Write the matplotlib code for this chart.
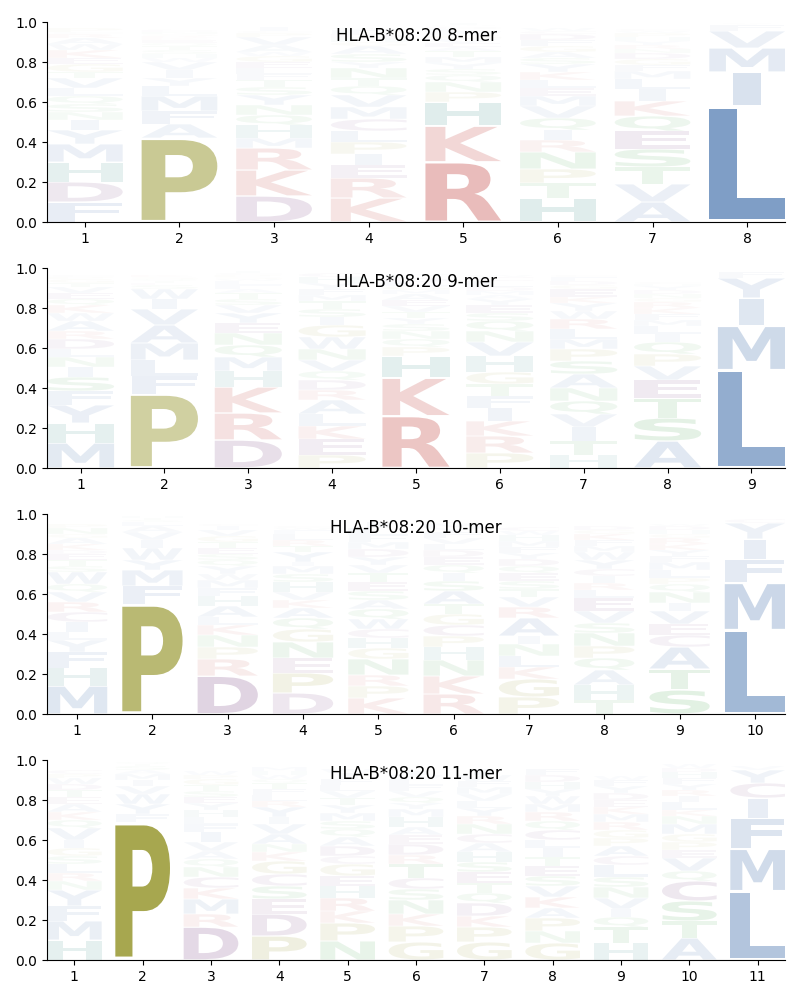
import matplotlib
matplotlib.use("Agg")
import matplotlib.pyplot as plt
from matplotlib.textpath import TextPath
from matplotlib.patches import PathPatch
from matplotlib.font_manager import FontProperties
from matplotlib.transforms import Affine2D

# --- data: letters per position (stack order, bottom -> top) and their probabilities ---
allele = "HLA-B*08:20"

mer8_letters = ["FDHMYINSQLVTGEKWARCP", "PAFMLYIVWHSTQEKRGNDC", "DKRMHQNYSTFLEGWAVPCI",
                "KREIPLCMVQTNYSAGHDFW", "RKHPNQSYMTAEVGFLDCWI", "HTPNRIQVMELKYSAGFDCW",
                "AVTSEQKILMFGDNRYHPWC", "LIMVFYA"]
mer8_probs = [
    [.10, .10, .10, .09, .07, .05, .04, .04, .04, .04, .05, .03, .04, .03, .04, .03, .03, .02, .01, .02],
    [.42, .07, .065, .075, .05, .04, .04, .04, .02, .02, .02, .02, .015, .015, .01, .01, .01, .01, .01, .005],
    [.13, .13, .11, .05, .065, .05, .05, .05, .04, .035, .03, .03, .03, .03, .02, .035, .04, .02, .01, .02],
    [.12, .10, .065, .055, .06, .055, .06, .06, .06, .045, .04, .05, .03, .04, .04, .02, .02, .02, .02, .01],
    [.30, .18, .12, .05, .05, .035, .03, .03, .03, .03, .02, .02, .02, .02, .015, .015, .01, .005, .005, .01],
    [.12, .075, .07, .085, .06, .05, .06, .06, .05, .04, .04, .04, .04, .03, .03, .03, .03, .03, .015, .015],
    [.10, .09, .085, .09, .09, .075, .075, .06, .05, .04, .03, .03, .03, .02, .02, .02, .02, .02, .01, .01],
    [.58, .17, .12, .085, .03, .005, .005],
]

mer9_letters = ["MHYFSINLDRAWKQEVTGPC", "PFLMAVIWSETQGK", "DRKHMQNEYVSTAFLWGPCI",
                "PEKLARDQVNWGISTMFYHC", "RKHPQNSYTVEAMGLDFW", "PRKIFTGHVNQSEYAMDLCW",
                "HTIVQNASPMLRWYKEGDFC", "ASTEVPQILMFKRGNDYHC", "LMIYF"]
mer9_probs = [
    [.125, .10, .09, .07, .07, .05, .05, .04, .05, .04, .05, .04, .04, .03, .03, .03, .02, .02, .01, .01],
    [.37, .09, .08, .085, .09, .08, .05, .05, .02, .01, .01, .01, .01, .01],
    [.14, .135, .13, .08, .07, .06, .06, .05, .05, .04, .03, .03, .02, .02, .02, .01, .01, .01, .01, .01],
    [.065, .08, .065, .06, .07, .05, .05, .045, .055, .055, .06, .06, .04, .04, .04, .03, .03, .03, .03, .02],
    [.26, .19, .11, .045, .04, .04, .035, .03, .03, .03, .03, .03, .02, .02, .02, .02, .01, .01],
    [.075, .085, .075, .065, .06, .06, .06, .08, .07, .055, .05, .04, .04, .03, .02, .02, .02, .03, .02, .01],
    [.065, .07, .07, .065, .065, .065, .07, .065, .06, .05, .05, .05, .04, .04, .03, .04, .02, .02, .02, .01],
    [.135, .115, .10, .09, .07, .06, .06, .04, .04, .03, .03, .03, .03, .02, .02, .02, .02, .01, .01],
    [.49, .22, .14, .10, .03],
]

mer10_letters = ["MHFYLICRVQWSTEDKAGNP", "PFMYWIVALSTH", "DRPNKLAHFMWYQSETGVIC",
                 "DPENGQAKVHSMIYTRLFWC", "KPRNGHCWQASETVYDMFLI", "RKNHPCGTASIQEDLVFYMW",
                 "PGKLNIARVTSEQDYFMHWC", "THAQPNSVELRICYWMFKGD", "STACEVINQPLMFYKRGHDW",
                 "LMFIYC"]
mer10_probs = [
    [.14, .09, .08, .06, .04, .05, .05, .05, .05, .04, .06, .03, .03, .03, .02, .03, .03, .02, .03, .02],
    [.55, .09, .08, .05, .06, .04, .04, .03, .02, .01, .01, .01],
    [.19, .085, .06, .06, .05, .04, .055, .05, .04, .04, .03, .04, .03, .03, .03, .03, .03, .03, .02, .01],
    [.105, .10, .075, .08, .065, .055, .05, .04, .04, .05, .04, .04, .02, .05, .03, .03, .03, .02, .01, .01],
    [.08, .06, .055, .08, .055, .05, .045, .05, .05, .045, .045, .045, .045, .04, .04, .04, .035, .035, .035, .03],
    [.10, .09, .08, .065, .055, .055, .055, .05, .065, .05, .04, .04, .04, .035, .03, .03, .03, .02, .02, .01],
    [.085, .09, .06, .055, .06, .04, .09, .055, .05, .04, .04, .04, .035, .035, .03, .03, .03, .03, .02, .02],
    [.07, .075, .075, .06, .06, .065, .05, .06, .065, .04, .035, .035, .035, .045, .04, .03, .03, .03, .02, .02],
    [.12, .105, .11, .06, .055, .065, .04, .055, .04, .03, .04, .04, .03, .03, .03, .03, .02, .02, .02, .01],
    [.42, .235, .12, .10, .08, .02],
]

mer11_letters = ["HMFYNRLSGIVQKAETDWPC", "PFYWVIMASTQ", "DRMKCNQAVIFLHYESTGPW",
                 "PDESCGKNAVIYRLFTQWHM", "NPKRHEGCDAQSMYTVLFIW", "GPKNSCTRDEAHMYQVFLWI",
                 "GPKDQTESHACNRYLVMFWI", "GNPAKVSETILCQRMWYHDF", "HTQIVNSLCAPGRMKEDYFW",
                 "ATSCQVEPGMNKLIRYFHDW", "LMFICYV"]
mer11_probs = [
    [.10, .095, .075, .08, .045, .04, .045, .04, .04, .04, .06, .04, .04, .04, .035, .035, .03, .03, .02, .02],
    [.69, .04, .05, .05, .04, .03, .03, .02, .02, .01, .01],
    [.165, .065, .075, .055, .055, .05, .04, .04, .045, .05, .04, .035, .035, .035, .03, .03, .03, .03, .02, .02],
    [.12, .11, .075, .065, .06, .065, .045, .04, .05, .05, .035, .05, .03, .03, .03, .03, .02, .02, .02, .02],
    [.095, .09, .06, .065, .06, .05, .06, .04, .05, .045, .04, .04, .04, .04, .035, .035, .03, .03, .03, .02],
    [.09, .08, .06, .07, .055, .055, .07, .045, .055, .045, .04, .05, .04, .03, .03, .03, .03, .03, .02, .02],
    [.09, .075, .055, .065, .05, .05, .055, .05, .05, .045, .045, .05, .04, .04, .035, .035, .035, .03, .03, .03],
    [.085, .06, .065, .05, .055, .055, .05, .05, .045, .045, .04, .05, .045, .045, .04, .04, .035, .035, .035, .03],
    [.085, .08, .05, .04, .055, .055, .05, .06, .045, .05, .04, .04, .04, .04, .035, .035, .035, .035, .03, .02],
    [.11, .085, .10, .10, .05, .065, .04, .04, .04, .05, .04, .03, .04, .03, .03, .03, .03, .03, .02, .02],
    [.345, .21, .155, .10, .075, .065, .02],
]

panels = [("8-mer", mer8_letters, mer8_probs), ("9-mer", mer9_letters, mer9_probs),
          ("10-mer", mer10_letters, mer10_probs), ("11-mer", mer11_letters, mer11_probs)]

# amino-acid colour groups
groups = {
    "AVLIMFWY": "#23589e",   # hydrophobic
    "KR": "#b9231e",         # basic
    "H": "#006e69",
    "DEC": "#5f1e6a",        # acidic / cys
    "PG": "#808000",
    "STNQ": "#148c1e",       # polar
}
COLOR = {aa: col for aas, col in groups.items() for aa in aas}

# --- glyph helpers (logo style: stretch to fill, but not wider than an 'E') ---
FP = FontProperties(family="DejaVu Sans", weight="bold")
_paths = {}


def glyph(c):
    if c not in _paths:
        _paths[c] = TextPath((0, 0), c, size=1, prop=FP)
    return _paths[c]


E_W = glyph("E").get_extents().width


def draw_letter(ax, c, x, floor, ceil, alpha, width=0.8, vpad=0.05):
    path = glyph(c)
    ext = path.get_extents()
    h = ceil - floor
    sx = width / max(ext.width, E_W)
    sy = h * (1 - vpad) / ext.height
    gw = ext.width * sx
    tr = (Affine2D().translate(-ext.x0, -ext.y0).scale(sx, sy)
          .translate(x - gw / 2, floor + vpad * h / 2))
    ax.add_patch(PathPatch(tr.transform_path(path), fc=COLOR[c], ec="none",
                           lw=0, alpha=min(alpha, 1.0)))


fig, axes = plt.subplots(4, 1, figsize=(8, 10), dpi=100)
fig.subplots_adjust(left=47 / 800, right=785 / 800, top=0.978, bottom=0.04, hspace=0.23)

for ax, (name, letters, probs) in zip(axes, panels):
    n = len(letters)
    for i in range(n):
        floor = 0.0
        for c, p in zip(letters[i], probs[i]):
            draw_letter(ax, c, i + 1, floor, floor + p, p)
            floor += p
    ax.set_xlim(0.6, n + 0.4)
    ax.set_ylim(0, 1)
    ax.set_xticks(range(1, n + 1))
    ax.spines["top"].set_visible(False)
    ax.spines["right"].set_visible(False)
    ax.text(0.5, 0.93, f"{allele} {name}", transform=ax.transAxes,
            ha="center", va="center", fontsize=12)

fig.savefig("out.png", dpi=100)
